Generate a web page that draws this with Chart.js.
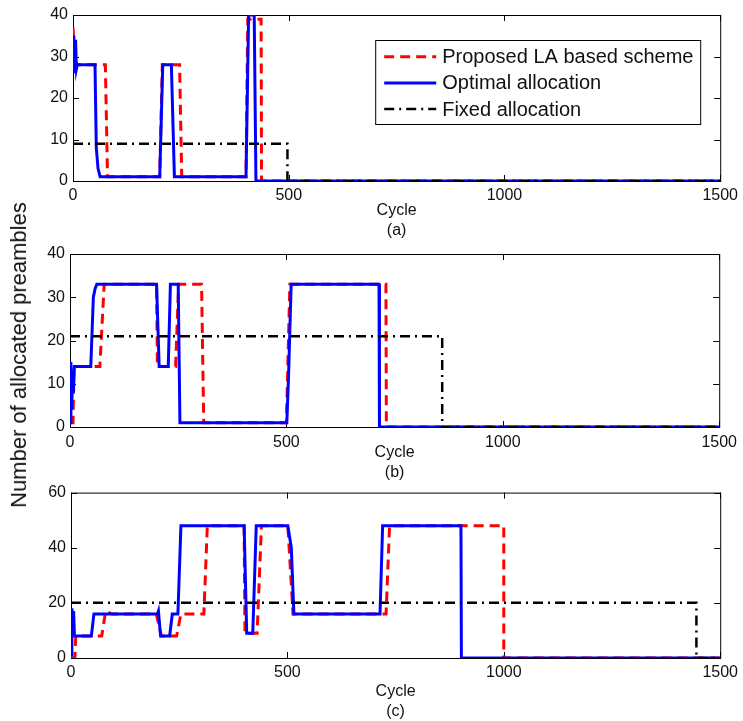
<!DOCTYPE html>
<html>
<head>
<meta charset="utf-8">
<title>Allocated preambles per cycle</title>
<script src="https://cdn.jsdelivr.net/npm/chart.js@4.4.0/dist/chart.umd.min.js"></script>
<style>
    html, body { margin: 0; padding: 0; background: #fff; overflow: hidden; }
    body { width: 743px; height: 721px; position: relative; font-family: "Liberation Sans", Arial, sans-serif; }
    canvas { position: absolute; left: 0; }
    #ylabel {
        position: absolute; left: 19px; top: 355px;
        transform: translate(-50%, -50%) rotate(-90deg);
        font-size: 22px; white-space: nowrap; color: #111;
    }
</style>
</head>
<body>
<canvas id="chartA" width="743" height="245" style="top:0"></canvas>
<canvas id="chartB" width="743" height="247" style="top:238px"></canvas>
<canvas id="chartC" width="743" height="248" style="top:478px"></canvas>
<div id="ylabel">Number of allocated preambles</div>
<script>
// (a)
const laCycA  = [0, 4, 8, 75, 80, 201, 207, 247, 252, 401, 405, 436, 437, 1500];
const laValA  = [37, 30, 28, 28, 1, 1, 28, 28, 1, 1, 39, 39, 0, 0];
const optCycA = [0, 2, 4, 6, 8, 10, 51, 54, 58, 63, 201, 208, 228, 235, 401, 407, 420, 424, 1500];
const optValA = [28, 35, 26, 34, 27, 28, 28, 8, 3, 1, 1, 28, 28, 1, 1, 40, 40, 0, 0];
const fixCycA = [0, 497, 497, 1500];
const fixValA = [9, 9, 0, 0];

// (b)
const laCycB  = [0, 7, 9, 69, 79, 200, 202, 244, 251, 304, 309, 500, 508, 730, 731, 1500];
const laValB  = [1, 1, 14, 14, 33, 33, 14, 14, 33, 33, 1, 1, 33, 33, 0, 0];
const optCycB = [0, 2, 4, 6, 8, 10, 12, 48, 54, 58, 62, 200, 206, 227, 232, 250, 254, 501, 505, 511, 714, 715, 1500];
const optValB = [1, 15, 4, 13, 8, 14, 14, 14, 30, 32, 33, 33, 14, 14, 33, 33, 1, 1, 12, 33, 33, 0, 0];
const fixCycB = [0, 860, 860, 1500];
const fixValB = [21, 21, 0, 0];

// (c)
const laCycC  = [0, 9, 11, 71, 80, 95, 197, 209, 244, 254, 307, 315, 400, 402, 430, 440, 501, 513, 728, 736, 1000, 1000, 1500];
const laValC  = [0, 0, 8, 8, 17, 16, 16, 8, 8, 16, 16, 48, 48, 9, 9, 48, 48, 16, 16, 48, 48, 0, 0];
const optCycC = [0, 2, 4, 6, 8, 47, 53, 200, 202, 207, 228, 234, 247, 254, 400, 406, 420, 428, 501, 509, 515, 714, 720, 901, 902, 1500];
const optValC = [1, 18, 9, 17, 8, 8, 16, 16, 17, 8, 8, 16, 16, 48, 48, 9, 9, 48, 48, 40, 16, 16, 48, 48, 0, 0];
const fixCycC = [0, 1445, 1445, 1500];
const fixValC = [20, 20, 0, 0];

const cycleTicks = [0, 500, 1000, 1500];
const seriesNames = ["Proposed LA based scheme", "Optimal allocation", "Fixed allocation"];

const FONT = '"Liberation Sans", Arial, sans-serif';
const TEXT = '#111';

function pts(xs, ys) {
    return xs.map((x, i) => ({ x: x, y: ys[i] }));
}

// box round the plot with small inward ticks on every side
const boxTicks = {
    id: 'boxTicks',
    beforeDatasetsDraw(chart) {
        const { ctx, chartArea: a, scales: { x, y } } = chart;
        ctx.save();
        ctx.strokeStyle = '#000';
        ctx.lineWidth = 1;
        ctx.strokeRect(a.left + 0.5, a.top + 0.5, a.right - a.left, a.bottom - a.top);
        ctx.beginPath();
        x.ticks.forEach(t => {
            const px = Math.round(x.getPixelForValue(t.value)) + 0.5;
            ctx.moveTo(px, a.bottom); ctx.lineTo(px, a.bottom - 6);
            ctx.moveTo(px, a.top); ctx.lineTo(px, a.top + 6);
        });
        y.ticks.forEach(t => {
            const py = Math.round(y.getPixelForValue(t.value)) + 0.5;
            ctx.moveTo(a.left, py); ctx.lineTo(a.left + 6, py);
            ctx.moveTo(a.right, py); ctx.lineTo(a.right - 6, py);
        });
        ctx.stroke();
        ctx.restore();
    }
};

// legend box drawn inside the top plot
const insideLegend = {
    id: 'insideLegend',
    afterDraw(chart, args, opts) {
        if (!opts.show) return;
        const { ctx, chartArea } = chart;
        const w = 325, h = 84;
        const left = chartArea.right - 20 - w;
        const top = chartArea.top + 25;
        ctx.save();
        ctx.fillStyle = '#fff';
        ctx.fillRect(left, top, w, h);
        ctx.strokeStyle = '#000';
        ctx.lineWidth = 1;
        ctx.strokeRect(left + 0.5, top + 0.5, w, h);
        ctx.font = '20px ' + FONT;
        ctx.textBaseline = 'middle';
        opts.order.forEach((idx, row) => {
            const ds = chart.data.datasets[idx];
            const y = top + 16.7 + row * 26.2;
            ctx.setLineDash(ds.borderDash || []);
            ctx.strokeStyle = ds.borderColor;
            ctx.lineWidth = ds.borderWidth;
            ctx.beginPath();
            ctx.moveTo(left + 9, y);
            ctx.lineTo(left + 61, y);
            ctx.stroke();
            ctx.setLineDash([]);
            ctx.fillStyle = TEXT;
            ctx.fillText(ds.label, left + 67, y + 1);
        });
        ctx.restore();
    }
};

function makeChart(id, s) {
    return new Chart(document.getElementById(id), {
        type: 'line',
        data: {
            // fixed on top, then optimal, proposed underneath
            datasets: [
                { label: seriesNames[2], data: pts(s.fixCyc, s.fixVal), borderColor: '#000000',
                  borderWidth: 2.5, borderDash: [10, 5, 2, 5] },
                { label: seriesNames[1], data: pts(s.optCyc, s.optVal), borderColor: '#0000ff',
                  borderWidth: 3 },
                { label: seriesNames[0], data: pts(s.laCyc, s.laVal), borderColor: '#ff0000',
                  borderWidth: 3, borderDash: [10, 6] }
            ]
        },
        options: {
            responsive: false,
            animation: false,
            events: [],
            layout: { padding: { top: s.padTop, right: s.padRight, left: 0, bottom: 0 } },
            elements: { point: { radius: 0 }, line: { tension: 0, fill: false } },
            plugins: {
                legend: { display: false },
                tooltip: { enabled: false },
                insideLegend: { show: !!s.legend, order: [2, 1, 0] }
            },
            scales: {
                x: {
                    type: 'linear', min: 0, max: 1500,
                    grid: { display: false, drawTicks: false },
                    border: { display: false },
                    afterBuildTicks: sc => { sc.ticks = cycleTicks.map(v => ({ value: v })); },
                    ticks: { padding: s.xPad, maxRotation: 0, color: TEXT, font: { family: FONT, size: 16 },
                             callback: v => String(v) },
                    title: {
                        display: true, text: ['Cycle', s.tag], color: TEXT,
                        font: { family: FONT, size: 16, lineHeight: 1.25 },
                        padding: { top: 0, bottom: s.titlePad }
                    },
                    afterFit: sc => { sc.height = s.xHeight; }
                },
                y: {
                    min: 0, max: s.yTicks[s.yTicks.length - 1],
                    grid: { display: false, drawTicks: false },
                    border: { display: false },
                    afterBuildTicks: sc => { sc.ticks = s.yTicks.map(v => ({ value: v })); },
                    ticks: { padding: 5, color: TEXT, font: { family: FONT, size: 16 },
                             callback: v => String(v) },
                    afterFit: sc => { sc.width = s.yWidth; }
                }
            }
        },
        plugins: [boxTicks, insideLegend]
    });
}

makeChart('chartA', {
    laCyc: laCycA, laVal: laValA, optCyc: optCycA, optVal: optValA, fixCyc: fixCycA, fixVal: fixValA,
    yTicks: [0, 10, 20, 30, 40], tag: '(a)', legend: true,
    padTop: 15, padRight: 20, yWidth: 73, xHeight: 64, xPad: 5, titlePad: 4
});

makeChart('chartB', {
    laCyc: laCycB, laVal: laValB, optCyc: optCycB, optVal: optValB, fixCyc: fixCycB, fixVal: fixValB,
    yTicks: [0, 10, 20, 30, 40], tag: '(b)',
    padTop: 16, padRight: 23, yWidth: 70, xHeight: 58, xPad: 6, titlePad: 2
});

makeChart('chartC', {
    laCyc: laCycC, laVal: laValC, optCyc: optCycC, optVal: optValC, fixCyc: fixCycC, fixVal: fixValC,
    yTicks: [0, 20, 40, 60], tag: '(c)',
    padTop: 11, padRight: 21, yWidth: 71, xHeight: 68, xPad: 5, titlePad: 4
});
</script>
</body>
</html>
